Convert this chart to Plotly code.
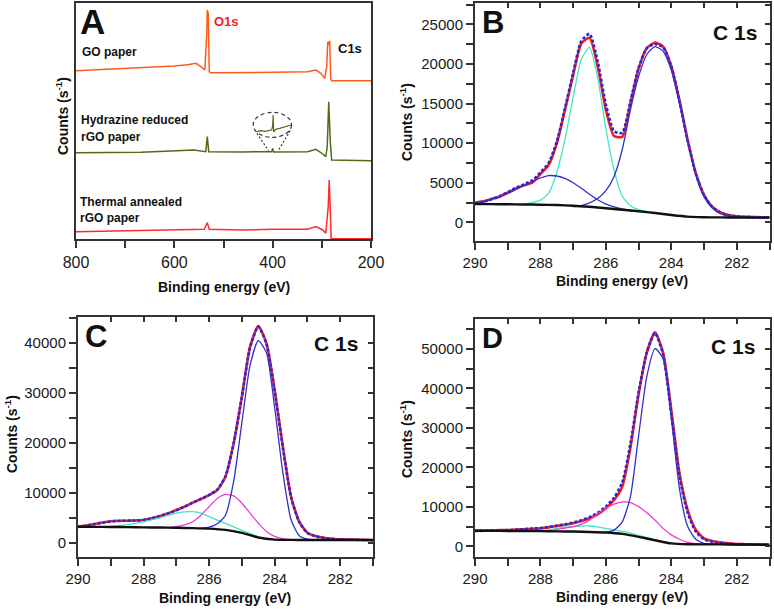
import plotly.graph_objects as go

W, H = 774, 610
FONT = "Liberation Sans, Arial, sans-serif"

# ---------------- Panel A: survey spectra (binding energy eV, intensity a.u.) ----------------
E_GO = [800, 736, 668, 600, 573, 556, 546, 538, 534, 533, 531, 529, 526, 465, 397, 329, 312, 302, 294, 290, 288, 286, 284, 282, 280, 200]
I_GO = [506, 510, 515, 520, 524, 528, 518, 508, 618, 688, 678, 503, 500, 500, 501, 503, 508, 498, 483, 518, 593, 583, 596, 483, 476, 476]
E_HY = [800, 668, 560, 546, 536, 533, 530, 465, 402, 400, 398, 329, 312, 298, 292, 289, 286, 283, 280, 200]
I_HY = [260, 261, 268, 265, 263, 308, 263, 262, 263, 273, 262, 263, 270, 256, 248, 278, 413, 298, 238, 236]
E_TH = [800, 668, 539, 533, 529, 465, 402, 400, 398, 329, 312, 298, 292, 287, 285, 283, 281, 200]
I_TH = [23, 26, 30, 50, 30, 28, 30, 32, 30, 30, 38, 28, 18, 98, 178, 98, 2, 2]
# magnified N1s inset
E_INSET = [432, 424, 416, 408, 402, 400, 399, 398, 394, 386, 378, 370, 363]
I_INSET = [323, 326, 324, 327, 328, 340, 373, 322, 330, 333, 336, 340, 343]
INSET_ELLIPSE_E = [439.6, 361.6]
INSET_ELLIPSE_I = [306, 381]
INSET_LEFT_E = [432, 408.4]
INSET_LEFT_I = [318, 266]
INSET_RIGHT_E = [364.3, 388.7]
INSET_RIGHT_I = [326, 266]

# ---------------- Panel B: GO paper C 1s ----------------
E_GRID = [290.0, 289.75, 289.5, 289.25, 289.0, 288.75, 288.5, 288.25, 288.0, 287.75, 287.5, 287.25,
          287.0, 286.75, 286.5, 286.25, 286.0, 285.75, 285.5, 285.25, 285.0, 284.75, 284.5, 284.25,
          284.0, 283.75, 283.5, 283.25, 283.0, 282.75, 282.5, 282.25, 282.0, 281.75, 281.5, 281.25, 281.0]
E_BG = [290.0, 289.5, 289.0, 288.5, 288.0, 287.5, 287.0, 286.5, 286.0, 285.5, 285.0, 284.5, 284.0,
        283.5, 283.0, 282.5, 282.0, 281.5, 281.0]

B_RAW = [2480, 2650, 2950, 3240, 3750, 4250, 4670, 5000, 6100, 7240, 9980, 14200, 18600, 22600, 23300,
         19700, 14200, 10900, 10800, 15000, 19400, 22000, 22700, 22200, 19700, 15400, 10400, 6200, 3450,
         1980, 1260, 930, 760, 700, 670, 640, 630]
B_FIT = [2400, 2600, 2900, 3300, 3800, 4350, 4800, 5300, 6300, 7500, 10200, 14400, 18900, 22900, 23800,
         20300, 14900, 11500, 11300, 15300, 19500, 22000, 22500, 22100, 19700, 15300, 10300, 6100, 3400,
         1950, 1220, 900, 740, 680, 650, 630, 620]
B_BG = [2320, 2300, 2280, 2260, 2230, 2180, 2100, 1960, 1780, 1590, 1400, 1180, 930, 720, 640, 620, 610, 600, 600]
E_B_CYAN = [288.5, 288.25, 288.0, 287.75, 287.5, 287.25, 287.0, 286.75, 286.5, 286.25, 286.0, 285.75,
            285.5, 285.25, 285.0, 284.75]
B_CYAN = [2300, 2500, 2800, 3700, 6300, 10500, 15800, 20600, 22100, 18200, 11800, 6600, 3300, 2100, 1600, 1380]
E_B_BLUE1 = [290.0, 289.75, 289.5, 289.25, 289.0, 288.75, 288.5, 288.25, 288.0, 287.75, 287.5, 287.25,
             287.0, 286.75, 286.5, 286.25, 286.0, 285.75, 285.5, 285.25, 285.0]
B_BLUE1 = [2320, 2550, 2900, 3250, 3650, 4150, 4650, 5150, 5600, 5900, 5850, 5550, 5000, 4300, 3550,
           2850, 2300, 1950, 1700, 1520, 1400]
E_B_BLUE2 = [287.0, 286.75, 286.5, 286.25, 286.0, 285.75, 285.5, 285.25, 285.0, 284.75, 284.5, 284.25,
             284.0, 283.75, 283.5, 283.25, 283.0, 282.75, 282.5, 282.25, 282.0, 281.5, 281.0]
B_BLUE2 = [1950, 2100, 2450, 3000, 4000, 5800, 9200, 14200, 18400, 21200, 22200, 21600, 19200, 15000,
           10200, 6000, 3250, 1800, 1080, 780, 680, 640, 630]

# ---------------- Panel C: hydrazine reduced rGO C 1s ----------------
C_RAW = [3200, 3450, 3730, 4050, 4300, 4380, 4400, 4450, 4530, 4870, 5330, 5870, 6530, 7200, 8000,
         8730, 9530, 10530, 13200, 19870, 29200, 39200, 43300, 39870, 30530, 19200, 9200, 4200, 2000,
         1330, 1000, 800, 670, 630, 600, 560, 530]
C_FIT = [3150, 3400, 3700, 4000, 4250, 4350, 4400, 4450, 4550, 4850, 5300, 5850, 6500, 7200, 8000,
         8750, 9550, 10600, 13300, 19900, 29200, 39000, 43200, 39800, 30300, 19000, 9100, 4100, 1950,
         1250, 950, 760, 640, 600, 570, 540, 520]
C_BG = [3200, 3170, 3140, 3110, 3070, 3030, 2980, 2920, 2820, 2560, 1950, 1050, 620, 560, 540, 530, 530, 525, 520]
E_C_CYAN = [289.0, 288.75, 288.5, 288.25, 288.0, 287.75, 287.5, 287.25, 287.0, 286.75, 286.5, 286.25,
            286.0, 285.75, 285.5, 285.25, 285.0, 284.75, 284.5]
C_CYAN = [3250, 3400, 3600, 3850, 4150, 4550, 4950, 5450, 5900, 6150, 6200, 5900, 5200, 4500, 3850,
          3150, 2450, 1800, 1200]
E_C_MAG = [287.25, 287.0, 286.75, 286.5, 286.25, 286.0, 285.75, 285.5, 285.25, 285.0, 284.75, 284.5,
           284.25, 284.0, 283.75, 283.5]
C_MAG = [2960, 3200, 3550, 4200, 5500, 7200, 8850, 9650, 9350, 7900, 5900, 3900, 2250, 1250, 800, 620]
E_C_BLUE = [286.25, 286.0, 285.75, 285.5, 285.25, 285.0, 284.75, 284.5, 284.25, 284.0, 283.75, 283.5,
            283.25, 283.0, 282.75, 282.5, 282.0, 281.5, 281.0]
C_BLUE = [2880, 3100, 3800, 5500, 12300, 24000, 35500, 40400, 38000, 27000, 14000, 4600, 1400, 700,
          560, 540, 530, 525, 520]

# ---------------- Panel D: thermal annealed rGO C 1s ----------------
D_RAW = [3970, 4000, 4050, 4100, 4140, 4250, 4350, 4450, 4560, 4800, 5150, 5450, 5830, 6400, 7100,
         8100, 9630, 11740, 15100, 25000, 38500, 49000, 54200, 49000, 34500, 18500, 9200, 4150, 2030,
         1350, 1010, 760, 590, 550, 510, 470, 420]
D_FIT = [3900, 3950, 4000, 4050, 4100, 4200, 4350, 4500, 4650, 4900, 5250, 5600, 6000, 6600, 7400,
         8500, 10100, 12300, 16200, 26000, 39000, 49200, 54000, 48500, 33500, 17500, 8500, 3700, 1800,
         1150, 850, 650, 520, 480, 450, 420, 400]
D_BG = [3950, 3930, 3900, 3880, 3850, 3800, 3750, 3650, 3500, 3150, 2400, 1550, 740, 520, 500, 490, 470, 440, 400]
E_D_CYAN = [288.0, 287.75, 287.5, 287.25, 287.0, 286.75, 286.5, 286.25, 286.0, 285.75, 285.5, 285.25,
            285.0, 284.75, 284.5]
D_CYAN = [3900, 4200, 4550, 4850, 5000, 5150, 5150, 4950, 4550, 4150, 3800, 3350, 2800, 2200, 1600]
E_D_MAG = [287.75, 287.5, 287.25, 287.0, 286.75, 286.5, 286.25, 286.0, 285.75, 285.5, 285.25, 285.0,
           284.75, 284.5, 284.25, 284.0, 283.75, 283.5, 283.25, 283.0]
D_MAG = [3800, 4300, 4650, 5000, 5650, 6650, 8200, 9650, 10700, 11250, 11100, 10050, 8500, 6650, 4550,
         2900, 1800, 1000, 680, 510]
E_D_BLUE = [286.0, 285.75, 285.5, 285.25, 285.0, 284.75, 284.5, 284.25, 284.0, 283.75, 283.5, 283.25,
            283.0, 282.75, 282.5, 282.0, 281.5, 281.0]
D_BLUE = [3500, 4100, 6200, 12600, 28000, 43000, 50100, 47500, 32500, 14500, 5000, 1800, 780, 600,
          520, 450, 420, 380]

# tick definitions
XPS_XTICKS = [281, 282, 283, 284, 285, 286, 287, 288, 289, 290]
SURVEY_XTICKS = [200, 300, 400, 500, 600, 700, 800]
B_YTICKS = [-2500, 0, 2500, 5000, 7500, 10000, 12500, 15000, 17500, 20000, 22500, 25000, 27500]
C_YTICKS = [0, 5000, 10000, 15000, 20000, 25000, 30000, 35000, 40000, 45000]
D_YTICKS = [0, 5000, 10000, 15000, 20000, 25000, 30000, 35000, 40000, 45000, 50000, 55000]

# ---------------- styling ----------------
RED = "#F51E1E"
FITBLUE = "#2626E0"
COMPBLUE = "#3030CC"
CYAN = "#3FE6C4"
MAGENTA = "#F03AD2"
BLACK = "#111111"
FRAME = "#333333"


def xf(p):
    return p / W


def yf(p):
    return 1 - p / H


DOM = {
    "A": ((76, 371), (2.7, 239.3)),
    "B": ((475, 769.5), (2.7, 240.7)),
    "C": ((78, 373), (317.3, 556.7)),
    "D": ((475, 769.5), (319.3, 556.7)),
}
RANGES = {
    "A": ([800, 200], [0, 710]),
    "B": ([290, 281], [-2320, 27740]),
    "C": ([290, 281], [-2800, 45070]),
    "D": ([290, 281], [-2620, 57500]),
}

fig = go.Figure()


def line(x, y, color, width, xa, ya, dash="solid", shape="spline"):
    fig.add_trace(go.Scatter(x=x, y=y, mode="lines", xaxis=xa, yaxis=ya, showlegend=False,
                             hoverinfo="skip",
                             line=dict(color=color, width=width, dash=dash, shape=shape, smoothing=0.6)))


# Panel A
line(E_GO, I_GO, "#FF5A1E", 1.5, "x", "y", shape="linear")
line(E_HY, I_HY, "#4F6B16", 1.5, "x", "y", shape="linear")
line(E_TH, I_TH, "#FF2A2A", 1.5, "x", "y", shape="linear")
line(E_INSET, I_INSET, "#4F6B16", 1.2, "x", "y", shape="linear")

# Panel B
line(E_GRID, B_RAW, RED, 2.6, "x2", "y2")
line(E_GRID, B_FIT, FITBLUE, 2.6, "x2", "y2", dash="3px,2px")
line(E_B_CYAN, B_CYAN, CYAN, 1.3, "x2", "y2")
line(E_B_BLUE1, B_BLUE1, COMPBLUE, 1.3, "x2", "y2")
line(E_B_BLUE2, B_BLUE2, COMPBLUE, 1.3, "x2", "y2")
line(E_BG, B_BG, BLACK, 2.4, "x6", "y6")

# Panel C
line(E_GRID, C_RAW, RED, 2.6, "x3", "y3")
line(E_GRID, C_FIT, FITBLUE, 2.6, "x3", "y3", dash="3px,2px")
line(E_C_CYAN, C_CYAN, CYAN, 1.3, "x3", "y3")
line(E_C_MAG, C_MAG, MAGENTA, 1.3, "x3", "y3")
line(E_C_BLUE, C_BLUE, COMPBLUE, 1.3, "x3", "y3")
line(E_BG, C_BG, BLACK, 2.4, "x7", "y7")

# Panel D
line(E_GRID, D_RAW, RED, 2.6, "x4", "y4")
line(E_GRID, D_FIT, FITBLUE, 2.6, "x4", "y4", dash="3px,2px")
line(E_D_CYAN, D_CYAN, CYAN, 1.3, "x4", "y4")
line(E_D_MAG, D_MAG, MAGENTA, 1.3, "x4", "y4")
line(E_D_BLUE, D_BLUE, COMPBLUE, 1.3, "x4", "y4")
line(E_BG, D_BG, BLACK, 2.4, "x8", "y8")

layout = dict(width=W, height=H, margin=dict(l=0, r=0, t=0, b=0, pad=0, autoexpand=False),
              paper_bgcolor="white", plot_bgcolor="white", showlegend=False,
              font=dict(family=FONT, color="#1a1a1a"))

tickfont = dict(family=FONT, size=15, color="#1a1a1a")


def labels(vals, step):
    return [str(v) if v % step == 0 else "" for v in vals]


# Panel A axes
(xd, yd) = DOM["A"]
layout["xaxis"] = dict(domain=[xf(xd[0]), xf(xd[1])], range=RANGES["A"][0], anchor="y",
                       showline=True, mirror=True, linecolor=FRAME, linewidth=2,
                       ticks="outside", ticklen=7, tickwidth=1.5, tickcolor=FRAME,
                       tickvals=SURVEY_XTICKS, ticktext=labels(SURVEY_XTICKS, 200),
                       tickfont=dict(family=FONT, size=16, color="#1a1a1a"),
                       showgrid=False, zeroline=False, automargin=False)
layout["yaxis"] = dict(domain=[yf(yd[1]), yf(yd[0])], range=RANGES["A"][1], anchor="x",
                       showline=True, mirror=True, linecolor=FRAME, linewidth=2,
                       ticks="", showticklabels=False, showgrid=False, zeroline=False, automargin=False)

for i, (key, yt, ystep) in enumerate([("B", B_YTICKS, 5000), ("C", C_YTICKS, 10000), ("D", D_YTICKS, 10000)]):
    n = i + 2
    m = i + 6
    (xd, yd) = DOM[key]
    xr, yr = RANGES[key]
    layout[f"xaxis{n}"] = dict(domain=[xf(xd[0]), xf(xd[1])], range=xr, anchor=f"y{n}",
                               showline=True, mirror=True, linecolor=FRAME, linewidth=2,
                               ticks="outside", ticklen=7, tickwidth=1.5, tickcolor=FRAME,
                               tickvals=XPS_XTICKS, ticktext=labels(XPS_XTICKS, 2),
                               tickfont=tickfont, showgrid=False, zeroline=False, automargin=False)
    layout[f"yaxis{n}"] = dict(domain=[yf(yd[1]), yf(yd[0])], range=yr, anchor=f"x{n}",
                               showline=True, mirror=True, linecolor=FRAME, linewidth=2,
                               ticks="outside", ticklen=7, tickwidth=1.5, tickcolor=FRAME,
                               tickvals=yt, ticktext=labels(yt, ystep),
                               tickfont=tickfont, showgrid=False, zeroline=False, automargin=False)
    # overlay axes carry the inward ticks on top and right
    layout[f"xaxis{m}"] = dict(overlaying=f"x{n}", side="top", range=xr, anchor=f"y{m}",
                               showline=False, ticks="inside", ticklen=5, tickwidth=1.5, tickcolor=FRAME,
                               tickvals=XPS_XTICKS, showticklabels=False, showgrid=False, zeroline=False,
                               automargin=False)
    layout[f"yaxis{m}"] = dict(overlaying=f"y{n}", side="right", range=yr, anchor=f"x{m}",
                               showline=False, ticks="inside", ticklen=5, tickwidth=1.5, tickcolor=FRAME,
                               tickvals=yt, showticklabels=False, showgrid=False, zeroline=False,
                               automargin=False)

fig.update_layout(**layout)

# inset decorations in panel A
fig.add_shape(type="circle", xref="x", yref="y", x0=INSET_ELLIPSE_E[0], x1=INSET_ELLIPSE_E[1],
              y0=INSET_ELLIPSE_I[0], y1=INSET_ELLIPSE_I[1], line=dict(color="#333333", width=1.2, dash="4px,3px"))
fig.add_shape(type="line", xref="x", yref="y", x0=INSET_LEFT_E[0], x1=INSET_LEFT_E[1],
              y0=INSET_LEFT_I[0], y1=INSET_LEFT_I[1], line=dict(color="#333333", width=1.2, dash="2px,2px"))
fig.add_shape(type="line", xref="x", yref="y", x0=INSET_RIGHT_E[0], x1=INSET_RIGHT_E[1],
              y0=INSET_RIGHT_I[0], y1=INSET_RIGHT_I[1], line=dict(color="#333333", width=1.2, dash="2px,2px"))


def text(t, x, y, size, xanchor="left", color="#111111", angle=0, yanchor="middle"):
    fig.add_annotation(text=t, x=xf(x), y=yf(y), xref="paper", yref="paper", showarrow=False,
                       xanchor=xanchor, yanchor=yanchor, textangle=angle,
                       font=dict(family=FONT, size=size, color=color))


# panel letters
text("<b>A</b>", 78, 21, 35)
text("<b>B</b>", 480, 23, 31)
text("<b>C</b>", 83, 336, 31)
text("<b>D</b>", 480, 338, 29)
# C 1s labels
text("<b>C 1s</b>", 759, 32, 21, xanchor="right")
text("<b>C 1s</b>", 360, 343, 21, xanchor="right")
text("<b>C 1s</b>", 757, 346, 21, xanchor="right")
# panel A labels
text("<b>O1s</b>", 212, 22, 13, color="#F01E1E")
text("<b>C1s</b>", 336, 48, 13)
text("<b>GO paper</b>", 80, 52, 12)
text("<b>Hydrazine reduced</b>", 79, 120, 12)
text("<b>rGO paper</b>", 79, 137, 12)
text("<b>Thermal annealed</b>", 78, 202, 12)
text("<b>rGO paper</b>", 78, 218, 12)
# axis titles
XT = "<b>Binding energy (eV)</b>"
YT = "<b>Counts (s<sup>-1</sup>)</b>"
text(XT, 223.5, 287, 14, xanchor="center")
text(XT, 622, 281, 14, xanchor="center")
text(XT, 225.5, 598, 14, xanchor="center")
text(XT, 622, 597, 14, xanchor="center")
text(YT, 62, 116, 14, xanchor="center", angle=-90)
text(YT, 406, 122, 14, xanchor="center", angle=-90)
text(YT, 11, 434, 14, xanchor="center", angle=-90)
text(YT, 406, 439, 14, xanchor="center", angle=-90)

fig.write_html("out.html", config={"displayModeBar": False},
               post_script="document.body.style.margin='0px';")
